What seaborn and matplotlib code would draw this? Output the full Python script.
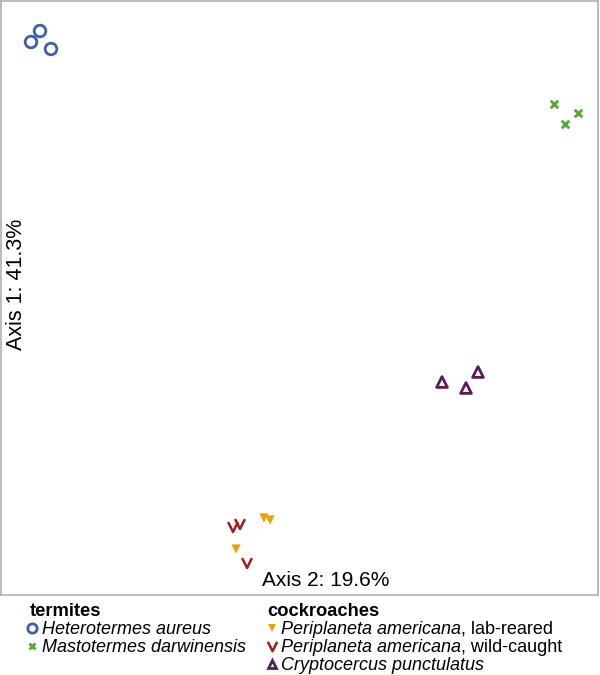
import numpy as np
import pandas as pd
import matplotlib
matplotlib.use("Agg")
import matplotlib.pyplot as plt
import seaborn as sns
from matplotlib.path import Path
from matplotlib.lines import Line2D

# PCoA coordinates (axis 2 horizontal, axis 1 vertical)
groups = ["Heterotermes aureus"] * 3 + ["Mastotermes darwinensis"] * 3 + \
         ["Periplaneta americana, lab-reared"] * 3 + ["Periplaneta americana, wild-caught"] * 3 + \
         ["Cryptocercus punctulatus"] * 3
axis2 = [-0.269, -0.260, -0.249,
         0.254, 0.278, 0.265,
         -0.036, -0.030, -0.064,
         -0.067, -0.060, -0.053,
         0.142, 0.166, 0.178]
axis1 = [0.258, 0.269, 0.251,
         0.196, 0.187, 0.176,
         -0.218, -0.220, -0.249,
         -0.227, -0.224, -0.263,
         -0.082, -0.088, -0.072]

# legend entries
termite_names = ["Heterotermes aureus", "Mastotermes darwinensis"]
roach_names = ["Periplaneta americana, lab-reared", "Periplaneta americana, wild-caught",
               "Cryptocercus punctulatus"]

df = pd.DataFrame({"grp": groups, "ax2": axis2, "ax1": axis1})

sns.set_style("white")
plt.rcParams["font.family"] = ["Liberation Sans", "DejaVu Sans"]
plt.rcParams["text.color"] = "black"

# open "v" marker for the wild-caught cockroaches
vee = Path([(-1, 1), (0, -1), (1, 1)], [Path.MOVETO, Path.LINETO, Path.LINETO])

style = {
    "Heterotermes aureus": dict(marker="o", fc="none", ec="#3a60b4", s=70, lw=2),
    "Mastotermes darwinensis": dict(marker="x", fc="#4fae30", ec="#4fae30", s=30, lw=2),
    "Periplaneta americana, lab-reared": dict(marker="v", fc="#f0a000", ec="none", s=45, lw=0),
    "Periplaneta americana, wild-caught": dict(marker=vee, fc="none", ec="#a8191c", s=50, lw=1.8),
    "Cryptocercus punctulatus": dict(marker="^", fc="none", ec="#5b1a5e", s=60, lw=2),
}

fig = plt.figure(figsize=(6, 6.75), dpi=100)
ax = fig.add_axes([1 / 600, 80 / 675, 597 / 600, 594 / 675])

for g, st in style.items():
    sub = df[df.grp == g]
    sns.scatterplot(data=sub, x="ax2", y="ax1", marker=st["marker"], s=st["s"],
                    facecolor=st["fc"], edgecolor=st["ec"], linewidth=st["lw"],
                    ax=ax, legend=False)

ax.set_xlim(-0.299, 0.298)
ax.set_ylim(-0.295, 0.299)
ax.set_xticks([])
ax.set_yticks([])
ax.set_xlabel("")
ax.set_ylabel("")
for sp in ax.spines.values():
    sp.set_color("#b0b0b0")
    sp.set_linewidth(1.2)

ax.text(0.437, 0.024, "Axis 2: 19.6%", transform=ax.transAxes, fontsize=15,
        ha="left", va="center")
ax.text(0.026, 0.523, "Axis 1: 41.3%", transform=ax.transAxes, fontsize=15.5,
        ha="center", va="center", rotation=90)


# legend drawn by hand below the plot
def fy(py):
    return 1 - py / 675


def column(title, names, x_title, x_mark, x_text, scales):
    fig.text(x_title / 600, fy(616), title, fontsize=13.2, fontweight="bold", va="baseline")
    for i, n in enumerate(names):
        base = 634 + 18 * i
        st = style[n]
        fig.add_artist(Line2D([x_mark / 600], [fy(base - 6)], transform=fig.transFigure,
                              ls="none", marker=st["marker"],
                              markersize=np.sqrt(st["s"]) * scales[i],
                              markerfacecolor=st["fc"], markeredgecolor=st["ec"],
                              markeredgewidth=st["lw"]))
        # species name in italics, the rest upright right after it
        it, _, rest = n.partition(", ")
        t = fig.text(x_text / 600, fy(base), it, fontsize=13, style="italic", va="baseline")
        if rest:
            ax.annotate(", " + rest, xy=(1, 0), xycoords=t, fontsize=13,
                        ha="left", va="bottom", annotation_clip=False)


column("termites", termite_names, 30, 32, 42, [0.8, 0.8])
column("cockroaches", roach_names, 267, 272, 281, [0.8, 0.95, 0.8])

fig.savefig("out.png", dpi=100)
